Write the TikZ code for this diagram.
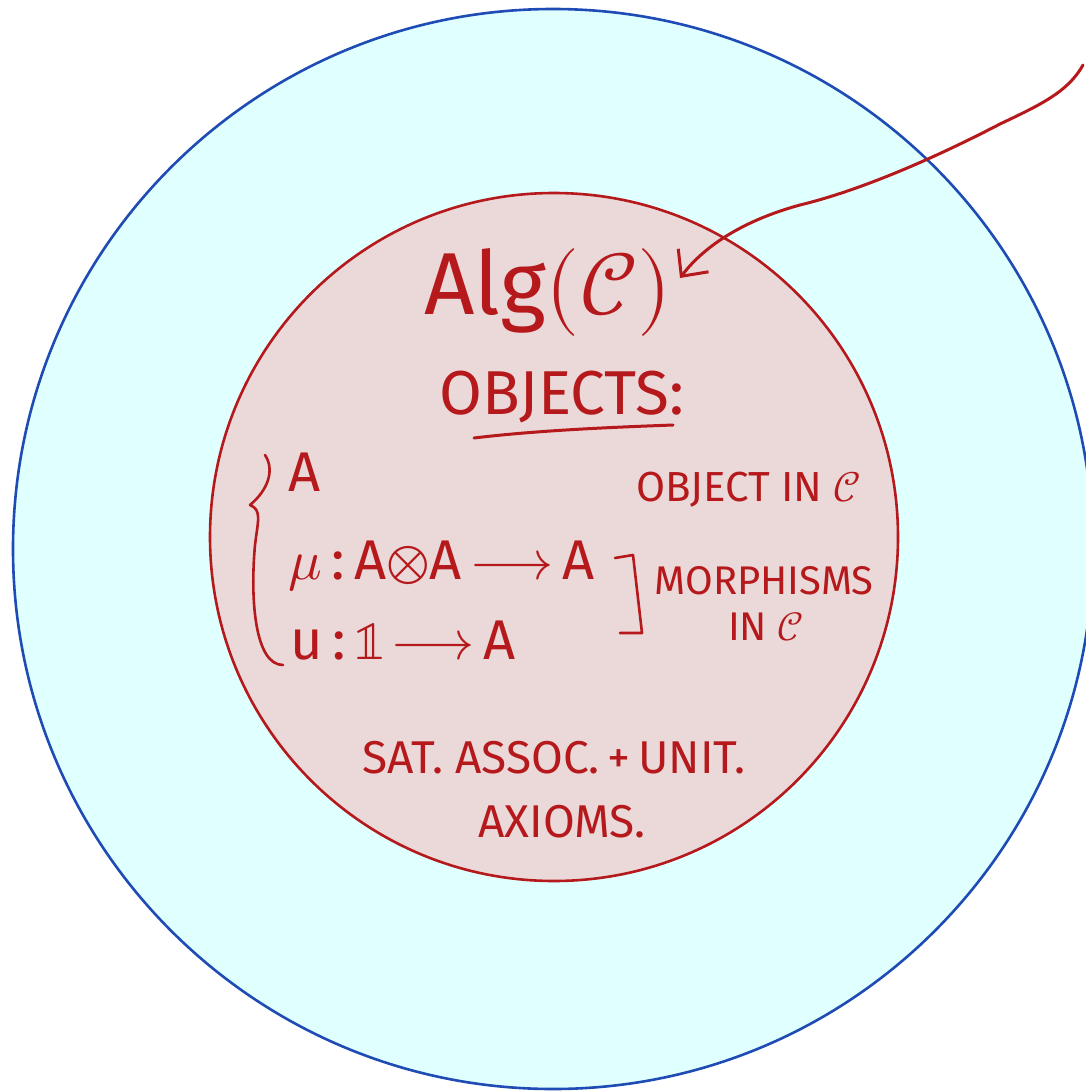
\documentclass[tikz,border=0pt]{standalone}
\usepackage{fontspec}
\usepackage{unicode-math}
\setmainfont{Fira Sans}
\setmathfont{Latin Modern Math}
\usetikzlibrary{arrows.meta}
\definecolor{ink}{HTML}{B5191B}
\definecolor{outerline}{HTML}{1E4BB4}
\definecolor{outerfill}{HTML}{E0FFFF}
\definecolor{innerfill}{HTML}{EBD8D9}
\tikzset{
  lbl/.style={text=ink, inner sep=0pt, font=#1},
  stroke/.style={draw=ink, line width=2.2pt, line cap=round, line join=round},
}
\begin{document}
\begin{tikzpicture}[x=1pt,y=-1pt]
\useasboundingbox (0,0) rectangle (1086,1092);
\clip (0,0) rectangle (1086,1092);
% circles
\draw[draw=outerline, fill=outerfill, line width=2.6pt] (553,549) circle (540);
\draw[draw=ink, fill=innerfill, line width=2.6pt] (554,537) circle (344);
% title
\node[lbl={\fontsize{88}{88}\selectfont}] (alg) at (548,292) {Alg$(\mathcal{C})$};
\node[lbl={\fontsize{62}{62}\selectfont}] (objects) at (562,397) {OBJECTS:};
\coordinate (ulA) at (474,438);
\coordinate (ulB) at (673,425);
\draw[stroke, line width=3pt] (ulA) .. controls (540,430) and (620,427) .. (ulB);
% brace
\coordinate (brTop) at (265,455);
\draw[stroke, line width=2.6pt] (brTop) .. controls (275,470) and (268,490) .. (250,505)
  .. controls (262,510) and (258,520) .. (255,545)
  .. controls (250,600) and (255,665) .. (283,665);
% contents
\node[lbl={\fontsize{56}{56}\selectfont}, anchor=west] (objA) at (288,472) {A};
\node[lbl={\fontsize{56}{56}\selectfont}, anchor=west] (mu) at (288,566) {$\mu$\,:\,A$\otimes$A\,$\longrightarrow$\,A};
\node[lbl={\fontsize{56}{56}\selectfont}, anchor=west] (unit) at (290,641) {u\,:\,$\mathbb{1}\!\longrightarrow$\,A};
% bracket
\coordinate (bkA) at (615,558);
\draw[stroke, line width=2.6pt] (bkA) -- (633,555) -- (642,633) -- (620,633);
% annotations
\node[lbl={\fontsize{42}{42}\selectfont}] (objin) at (749,490) {OBJECT IN $\mathcal{C}$};
\node[lbl={\fontsize{40}{40}\selectfont}] (morph) at (764,581) {MORPHISMS};
\node[lbl={\fontsize{40}{40}\selectfont}] (inC) at (766,627) {IN $\mathcal{C}$};
\node[lbl={\fontsize{46}{46}\selectfont}] (sat) at (554,758) {SAT. ASSOC.\,+\,UNIT.};
\node[lbl={\fontsize{46}{46}\selectfont}] (ax) at (562,822) {AXIOMS.};
% arrow
\coordinate (start) at (1083,65);
\coordinate (tip) at (680,278);
\draw[stroke, line width=3pt, -{Straight Barb[length=20pt,width=38pt,line width=3pt]}]
  (start) .. controls (1068,92) and (1040,105) .. (1000,124)
  .. controls (950,150) and (870,188) .. (800,205)
  .. controls (745,220) and (705,245) .. (tip);
\end{tikzpicture}
\end{document}
